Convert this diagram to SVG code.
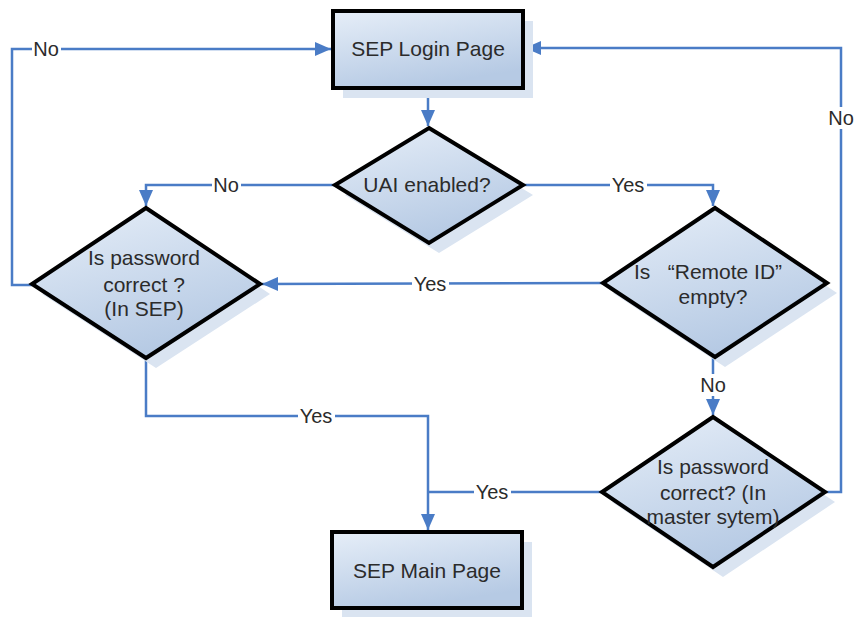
<svg xmlns="http://www.w3.org/2000/svg" width="854" height="617" viewBox="0 0 854 617">
<style>
.node{stroke:#000;stroke-width:4;fill:url(#g);stroke-linejoin:miter}
.shadow{fill:#DAE4F1;stroke:none}
.txt{font-family:"Liberation Sans",Arial,sans-serif;font-size:21px;fill:#2b2b2b;text-anchor:middle}
.lbl{font-family:"Liberation Sans",Arial,sans-serif;font-size:20px;fill:#2b2b2b;text-anchor:middle}
.line{fill:none;stroke:#4A7CC6;stroke-width:2.5}
.bg{fill:#fff}
</style>
<defs>
<linearGradient id="g" x1="0" y1="0" x2="0.4" y2="1">
<stop offset="0" stop-color="#E6EEF8"/>
<stop offset="1" stop-color="#B6CAE4"/>
</linearGradient>
<marker id="arr" markerUnits="userSpaceOnUse" viewBox="0 0 16 14" refX="16" refY="7" markerWidth="16" markerHeight="14" orient="auto">
<path d="M0,0 L16,7 L0,14 z" fill="#4A7CC6"/>
</marker>
</defs>
<rect width="854" height="617" fill="#fff"/>

<g id="connectors">
<path class="line" d="M428,88 L428,126" marker-end="url(#arr)"/>
<path class="line" d="M335,185 L146,185 L146,206" marker-end="url(#arr)"/>
<path class="line" d="M523,185 L713,185 L713,206" marker-end="url(#arr)"/>
<path class="line" d="M603,283 L262,284" marker-end="url(#arr)"/>
<path class="line" d="M713,357 L713,415" marker-end="url(#arr)"/>
<path class="line" d="M146,358 L146,416 L428,416 L428,530" marker-end="url(#arr)"/>
<path class="line" d="M602,492 L428,492"/>
<path class="line" d="M32,285 L12,285 L12,49 L331,49" marker-end="url(#arr)"/>
<path class="line" d="M825,492 L841,492 L841,48 L525,48" marker-end="url(#arr)"/>
<rect class="bg" x="212" y="174" width="29" height="22"/>
<text class="lbl" x="226" y="192">No</text>
<rect class="bg" x="610" y="174" width="37" height="22"/>
<text class="lbl" x="628" y="192">Yes</text>
<rect class="bg" x="412" y="273" width="37" height="22"/>
<text class="lbl" x="430" y="291">Yes</text>
<rect class="bg" x="699" y="374" width="29" height="22"/>
<text class="lbl" x="713" y="392">No</text>
<rect class="bg" x="474" y="481" width="37" height="22"/>
<text class="lbl" x="492" y="499">Yes</text>
<rect class="bg" x="298" y="405" width="37" height="22"/>
<text class="lbl" x="316" y="423">Yes</text>
<rect class="bg" x="32" y="38" width="29" height="22"/>
<text class="lbl" x="46" y="56">No</text>
<rect class="bg" x="827" y="107" width="29" height="22"/>
<text class="lbl" x="841" y="125">No</text>
</g>

<g id="login">
<rect class="shadow" x="343" y="21" width="190" height="77"/>
<rect class="node" x="333" y="11" width="190" height="77"/>
<text class="txt" x="428" y="56">SEP Login Page</text>
</g>

<g id="uai">
<polygon class="shadow" points="439,138 533,195 439,253 345,195"/>
<polygon class="node" points="429,128 523,185 429,243 335,185"/>
<text class="txt" x="427" y="192">UAI enabled?</text>
</g>

<g id="pwd-sep">
<polygon class="shadow" points="156,218 270,294 156,368 42,294"/>
<polygon class="node" points="146,208 260,284 146,358 32,284"/>
<text class="txt" x="144" y="265">Is password</text>
<text class="txt" x="144" y="292">correct ?</text>
<text class="txt" x="144" y="316">(In SEP)</text>
</g>

<g id="remote">
<polygon class="shadow" points="725,218 837,293 725,367 613,293"/>
<polygon class="node" points="715,208 827,283 715,357 603,283"/>
<text class="txt" x="708" y="279" style="white-space:pre">Is   “Remote ID”</text>
<text class="txt" x="713" y="304">empty?</text>
</g>

<g id="pwd-master">
<polygon class="shadow" points="723,427 835,502 723,577 612,502"/>
<polygon class="node" points="713,417 825,492 713,567 602,492"/>
<text class="txt" x="713" y="474">Is password</text>
<text class="txt" x="713" y="500">correct? (In</text>
<text class="txt" x="713" y="524">master sytem)</text>
</g>

<g id="main">
<rect class="shadow" x="342" y="542" width="190" height="76"/>
<rect class="node" x="332" y="532" width="190" height="76"/>
<text class="txt" x="427" y="578">SEP Main Page</text>
</g>
</svg>
